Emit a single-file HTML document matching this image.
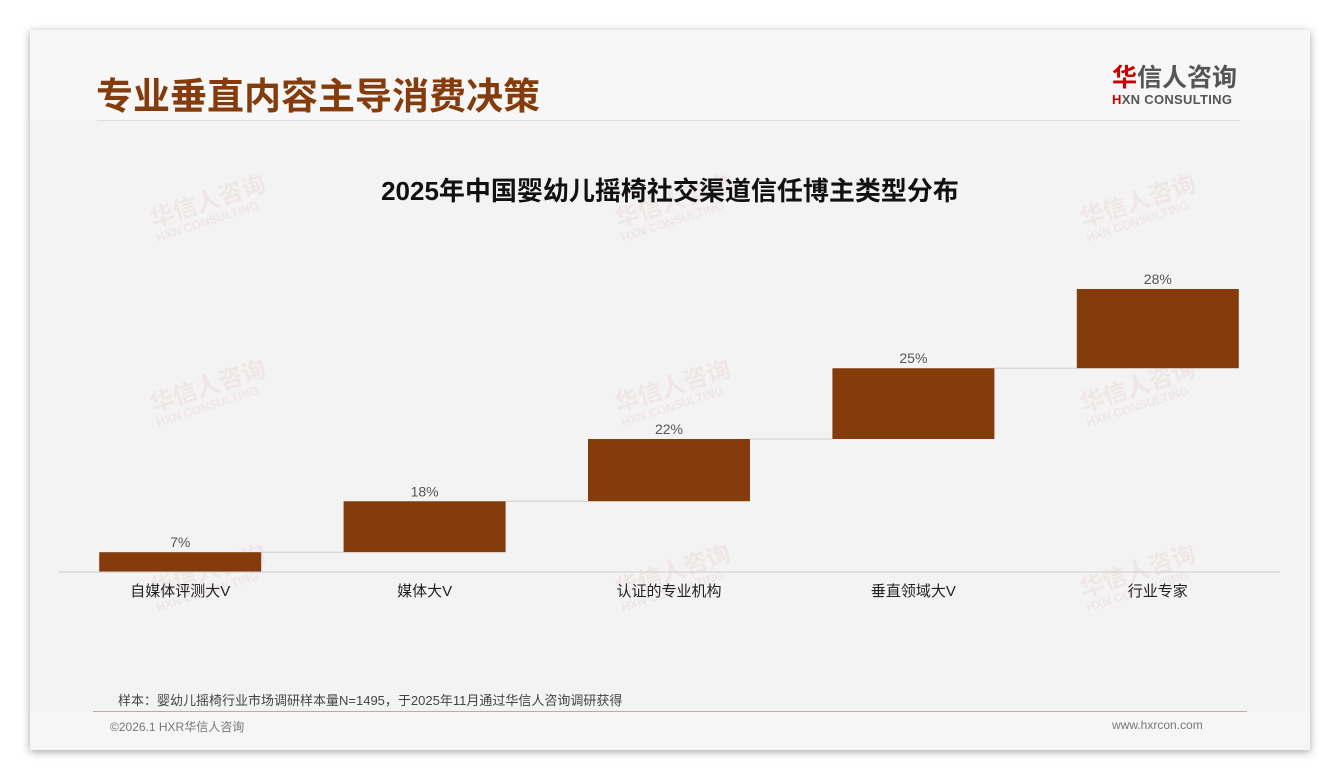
<!DOCTYPE html>
<html><head><meta charset="utf-8">
<style>
body{margin:0;width:1340px;height:780px;background:#fff;position:relative;overflow:hidden;font-family:"Liberation Sans","Noto Sans CJK SC",sans-serif}
#card{position:absolute;left:30px;top:30px;width:1280px;height:720px;background:#f3f3f3;box-shadow:0 2px 8px rgba(0,0,0,0.35)}
#hdr{position:absolute;left:0;top:0;width:1280px;height:90px;background:#f7f7f7}
#ftr{position:absolute;left:0;top:682px;width:1280px;height:38px;background:#f6f6f6}
.wm{position:absolute;color:rgba(220,150,150,0.13);font-weight:bold;transform:rotate(-18deg);line-height:1}
</style></head><body>
<div id="card">
<div id="hdr"></div>
<div id="ftr"></div>
</div>
<div style="position:absolute;left:96px;top:68px;font-size:37px;font-weight:bold;color:#843c0c;font-family:'Noto Sans CJK SC',sans-serif;line-height:50px">专业垂直内容主导消费决策</div>
<div style="position:absolute;left:1112px;top:62px;width:130px">
<div style="font-size:25px;font-weight:bold;color:#555;line-height:28px;font-family:'Noto Sans CJK SC',sans-serif"><span style="color:#c00">华</span>信人咨询</div>
<div style="font-size:13px;font-weight:bold;color:#555;letter-spacing:0.3px;margin-top:2px"><span style="color:#c00">H</span>XN CONSULTING</div>
</div>
<div style="position:absolute;left:97px;top:120px;width:1143px;height:1px;background:#ddd"></div>
<div id="wms"></div>
<svg id="chart" width="1340" height="780" style="position:absolute;left:0;top:0"></svg>
<div style="position:absolute;left:118px;top:690px;font-size:13px;color:#444">样本：婴幼儿摇椅行业市场调研样本量N=1495，于2025年11月通过华信人咨询调研获得</div>
<div style="position:absolute;left:93px;top:711px;width:1154px;height:1px;background:#c9a898"></div>
<div style="position:absolute;left:110px;top:718px;font-size:12px;color:#777">©2026.1 HXR华信人咨询</div>
<div style="position:absolute;left:1112px;top:718px;font-size:12px;color:#777">www.hxrcon.com</div>
<script>
const categories=["自媒体评测大V","媒体大V","认证的专业机构","垂直领域大V","行业专家"];
const values=[7,18,22,25,28];
const valueLabels=["7%","18%","22%","25%","28%"];
const chartTitle="2025年中国婴幼儿摇椅社交渠道信任博主类型分布";

const NS="http://www.w3.org/2000/svg";
const svg=document.getElementById('chart');
const x0=58,x1=1280,base=572,pxPer=2.83;
const band=(x1-x0)/categories.length,bw=162;
const y=v=>base-v*pxPer;
const bx=i=>x0+band*i+(band-bw)/2;
function mk(t,a){const e=document.createElementNS(NS,t);for(const k in a)e.setAttribute(k,a[k]);svg.appendChild(e);return e;}
let t=mk('text',{x:670,y:200,'text-anchor':'middle','font-size':26,'font-weight':'bold',fill:'#111','font-family':'"Liberation Sans","Noto Sans CJK SC",sans-serif'});
t.textContent=chartTitle;


let cum=0;
values.forEach((v,i)=>{
  const lo=cum,hi=cum+v;
  if(i<values.length-1){
    const c=mk('line',{x1:bx(i)+bw,x2:bx(i+1),y1:y(hi),y2:y(hi),stroke:'#ccc','stroke-width':1});
    
    
  }
  const r=mk('rect',{x:bx(i),y:y(hi),width:bw,height:y(lo)-y(hi),fill:'#843c0c'});
  
  
  const l=mk('text',{x:bx(i)+bw/2,y:y(hi)-5,'text-anchor':'middle','font-size':14,fill:'#555','font-family':'"Liberation Sans",sans-serif'});
  l.textContent=valueLabels[i];
  
  
  const c2=mk('text',{x:bx(i)+bw/2,y:base+24,'text-anchor':'middle','font-size':15,fill:'#222','font-family':'"Liberation Sans","Noto Sans CJK SC",sans-serif'});
  c2.textContent=categories[i];
  
  
  cum=hi;
});
const ax=mk('line',{x1:x0,x2:x1,y1:base,y2:base,stroke:'#ccc','stroke-width':1});



const wm=document.getElementById('wms');
[[150,190],[615,190],[1080,190],[150,375],[615,375],[1080,375],[150,560],[615,560],[1080,560]].forEach(p=>{
  const d=document.createElement('div');d.className='wm';
  d.style.left=p[0]+'px';d.style.top=p[1]+'px';
  d.innerHTML='<div style="font-size:24px">华信人咨询</div><div style="font-size:12px">HXN CONSULTING</div>';
  
  
  wm.appendChild(d);
});
</script>
</body></html>
